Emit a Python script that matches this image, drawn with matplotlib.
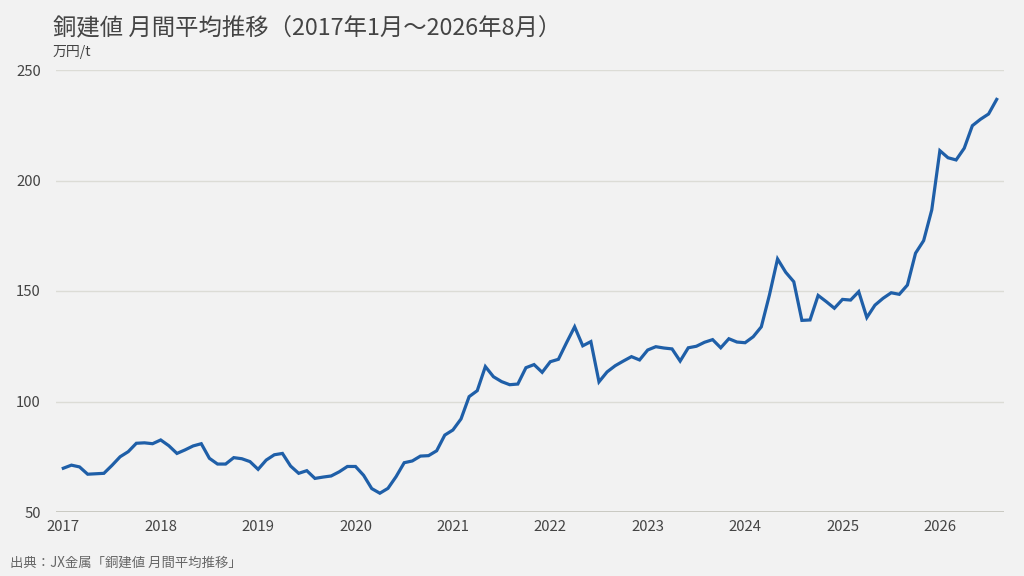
import matplotlib
matplotlib.use("Agg")
import matplotlib.pyplot as plt
import numpy as np

plt.rcParams['font.family'] = ['Noto Sans CJK JP', 'DejaVu Sans']

# Monthly average copper price (万円/t), Jan 2017 .. Aug 2026
years = ["2017", "2018", "2019", "2020", "2021", "2022", "2023", "2024", "2025", "2026"]
prices = [
    # 2017
    69.8, 71.2, 70.4, 67.1, 67.3, 67.5, 71.1, 75.0, 77.3, 81.1, 81.3, 80.9,
    # 2018
    82.6, 80.0, 76.5, 78.1, 79.9, 80.9, 74.3, 71.7, 71.7, 74.6, 74.1, 72.8,
    # 2019
    69.3, 73.5, 75.9, 76.5, 70.8, 67.5, 68.7, 65.2, 65.8, 66.3, 68.2, 70.6,
    # 2020
    70.6, 66.6, 60.6, 58.5, 60.7, 66.0, 72.3, 73.1, 75.3, 75.5, 77.7, 84.8,
    # 2021
    87.1, 92.1, 102.2, 104.9, 115.8, 111.2, 109.0, 107.6, 107.9, 115.3, 116.7, 113.2,
    # 2022
    118.0, 119.1, 126.6, 133.8, 125.2, 127.1, 108.9, 113.4, 116.2, 118.3, 120.3, 118.8,
    # 2023
    123.3, 124.8, 124.2, 123.8, 118.3, 124.3, 125.0, 126.8, 128.0, 124.3, 128.4, 126.9,
    # 2024
    126.6, 129.3, 133.8, 148.2, 164.5, 158.5, 154.2, 136.7, 136.9, 148.0, 145.2, 142.2,
    # 2025
    146.2, 145.9, 149.7, 138.0, 143.6, 146.7, 149.2, 148.5, 152.7, 167.1, 172.8, 186.7,
    # 2026
    213.5, 210.3, 209.3, 214.6, 224.8, 227.7, 230.1, 236.7,
]
y_ticks = [50, 100, 150, 200, 250]

title = "銅建値 月間平均推移（2017年1月～2026年8月）"
unit = "万円/t"
source = "出典：JX金属「銅建値 月間平均推移」"

bg = "#f2f2f2"
line_color = "#1f5fa8"
text_color = "#444444"

fig = plt.figure(figsize=(10.24, 5.76), dpi=100, facecolor=bg)
ax = fig.add_axes([56/1024, 1 - 512/576, (1004 - 56)/1024, (512 - 70)/576])
ax.set_facecolor(bg)

x = np.arange(len(prices))
ax.plot(x, prices, color=line_color, lw=2.3, solid_joinstyle='miter', zorder=3)

ax.set_xlim(-0.9, 115.9)
ax.set_ylim(50, 250)
ax.set_yticks(y_ticks)
ax.set_yticklabels([str(v) for v in y_ticks])
ax.set_xticks([12 * i for i in range(len(years))])
ax.set_xticklabels(years)

for v in y_ticks:
    ax.axhline(v, color="#c9c9c2" if v == 50 else "#dcdcd6", lw=1.0 if v != 50 else 1.4, zorder=1)

for s in ax.spines.values():
    s.set_visible(False)
ax.tick_params(axis='both', length=0, labelsize=10.7, colors=text_color)
ax.tick_params(axis='y', pad=11)
ax.tick_params(axis='x', pad=5.5)

fig.text(53/1024, 1 - 29/576, title, fontsize=16.8, color=text_color, va='center', ha='left')
fig.text(53/1024, 1 - 52/576, unit, fontsize=10, color=text_color, va='center', ha='left')
fig.text(10/1024, 1 - 563/576, source, fontsize=9.6, color="#666666", va='center', ha='left')

fig.savefig("out.png", dpi=100, facecolor=bg)
